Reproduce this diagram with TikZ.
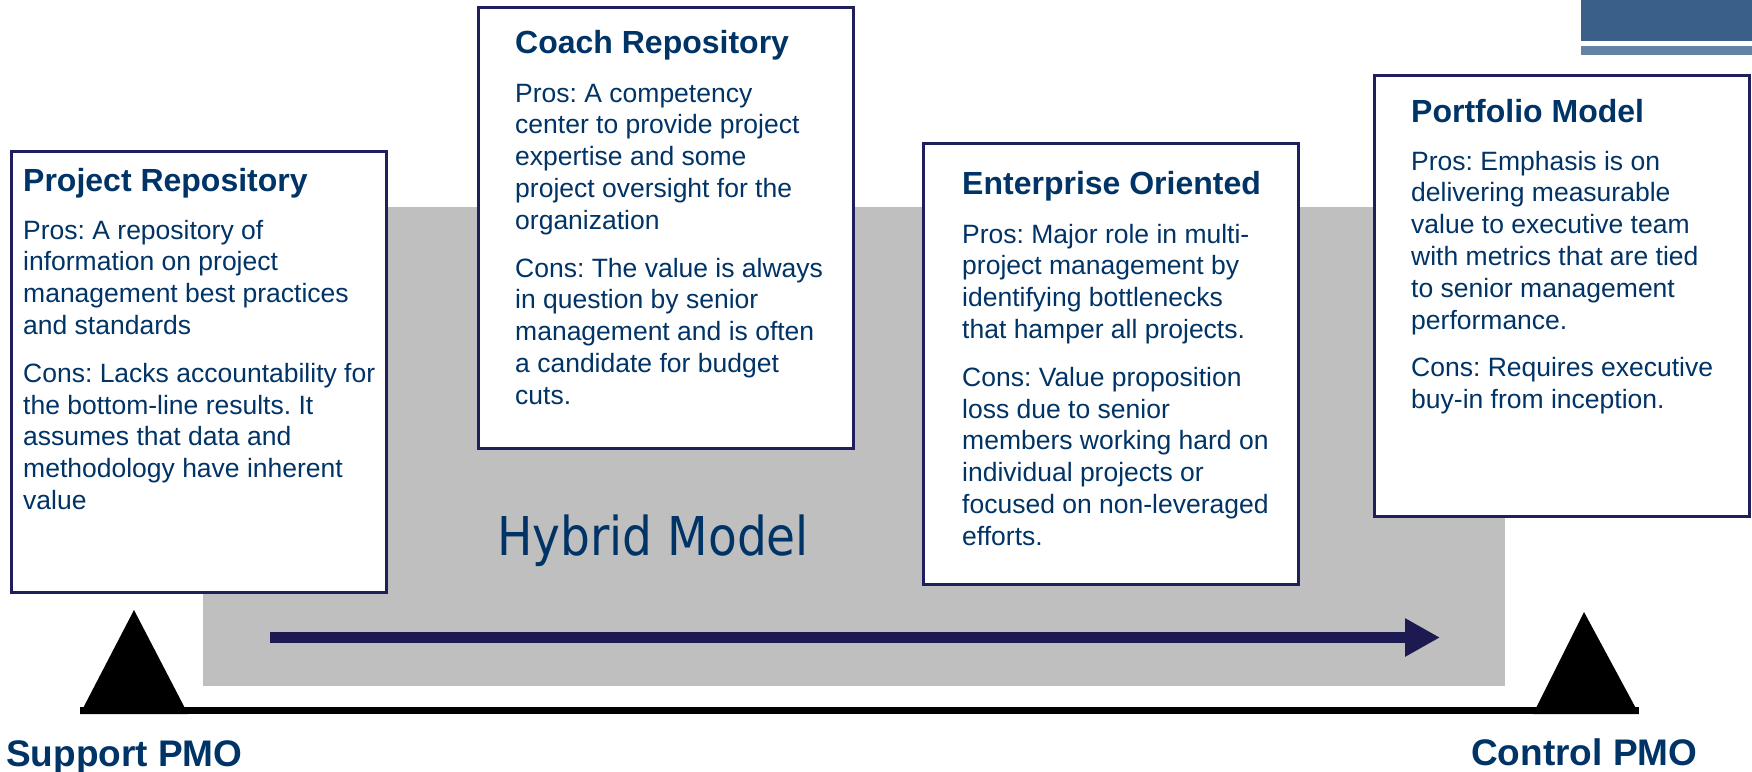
\documentclass[tikz,border=0pt]{standalone}
\usepackage{fontspec}
\setmainfont{Liberation Sans}
\newfontfamily\hybfont{DejaVu Sans}
\usetikzlibrary{arrows.meta}
\frenchspacing
\definecolor{txtblue}{HTML}{003366}
\definecolor{boxline}{HTML}{1F1F5C}
\definecolor{arrowcol}{HTML}{1C1A50}
\definecolor{panelgray}{HTML}{BFBFBF}
\definecolor{bardark}{HTML}{3A5F88}
\definecolor{barlight}{HTML}{6283A3}
\newcommand{\bodytext}[1]{\parbox[t]{372pt}{\raggedright\frenchspacing #1}}
\tikzset{
  infobox/.style={draw=boxline, line width=3pt, fill=white, minimum width=375pt, minimum height=441pt, inner sep=0pt},
  boxtitle/.style={anchor=base west, inner sep=0pt, text=txtblue, font=\fontsize{32}{38}\selectfont\bfseries},
  boxbody/.style={anchor=base west, inner sep=0pt, text=txtblue, font=\fontsize{26.5}{31.8}\selectfont},
  pmolabel/.style={anchor=base west, inner sep=0pt, text=txtblue, font=\fontsize{37}{44}\selectfont\bfseries},
}
\begin{document}
\begin{tikzpicture}[x=1pt,y=-1pt]
\useasboundingbox (0,0) rectangle (1752,771);
% top-right bars
\fill[bardark] (1581,0) rectangle (1752,41);
\fill[barlight] (1581,46) rectangle (1752,55);
% gray panel
\fill[panelgray] (203,207) rectangle (1505,686);
\node[anchor=base west, inner sep=0pt, text=txtblue, font=\fontsize{53.5}{60}\hybfont] (hyb) at (497,555) {\scalebox{0.88}[1]{Hybrid Model}};
% arrow
\coordinate (as) at (270,637.5);
\coordinate (ae) at (1440,637.5);
\draw[arrowcol, line width=11pt, -{Triangle[length=35pt,width=36pt]}] (as) -- (ae);
% base line and triangles
\coordinate (bl) at (80,710.5);
\coordinate (br) at (1639,710.5);
\draw[black, line width=7pt] (bl) -- (br);
\fill[black] (134,610) -- (188,714) -- (80,714) -- cycle;
\fill[black] (1584,612) -- (1639,714) -- (1533,714) -- cycle;
% labels
\node[pmolabel] (sup) at (6,766) {Support PMO};
\node[pmolabel] (ctl) at (1471,765) {Control PMO};
% boxes
\node[infobox] (b1) at (198.5,371.5) {};
\node[infobox] (b2) at (665.5,227.5) {};
\node[infobox] (b3) at (1110.5,364) {};
\node[infobox] (b4) at (1562,296) {};
% box 1
\node[boxtitle] (t1) at (23,191) {Project Repository};
\node[boxbody] (c1) at (23,239) {\bodytext{Pros: A repository of\\ information on project\\ management best practices\\ and standards\\[16pt] Cons: Lacks accountability for\\ the bottom-line results. It\\ assumes that data and\\ methodology have inherent\\ value}};
% box 2
\node[boxtitle] (t2) at (515,53) {Coach Repository};
\node[boxbody] (c2) at (515,102) {\bodytext{Pros: A competency\\ center to provide project\\ expertise and some\\ project oversight for the\\ organization\\[16pt] Cons: The value is always\\ in question by senior\\ management and is often\\ a candidate for budget\\ cuts.}};
% box 3
\node[boxtitle] (t3) at (962,194) {Enterprise Oriented};
\node[boxbody] (c3) at (962,243) {\bodytext{Pros: Major role in multi-\\ project management by\\ identifying bottlenecks\\ that hamper all projects.\\[16pt] Cons: Value proposition\\ loss due to senior\\ members working hard on\\ individual projects or\\ focused on non-leveraged\\ efforts.}};
% box 4
\node[boxtitle] (t4) at (1411,122) {Portfolio Model};
\node[boxbody] (c4) at (1411,170) {\bodytext{Pros: Emphasis is on\\ delivering measurable\\ value to executive team\\ with metrics that are tied\\ to senior management\\ performance.\\[16pt] Cons: Requires executive\\ buy-in from inception.}};
\end{tikzpicture}
\end{document}
